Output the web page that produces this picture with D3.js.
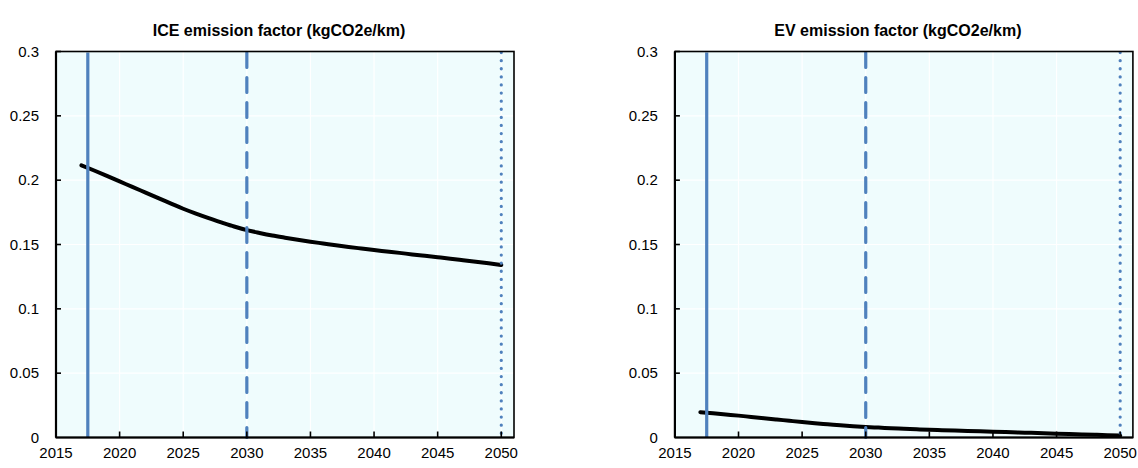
<!DOCTYPE html>
<html><head><meta charset="utf-8">
<script src="https://cdn.jsdelivr.net/npm/d3@7"></script>
<style>body{margin:0;background:#fff}svg{display:block}text{font-family:"Liberation Sans",Arial,sans-serif;fill:#000}</style>
</head><body><svg id="c" width="1138" height="468"></svg>
<script>
const years=[2017,2018,2019,2020,2021,2022,2023,2024,2025,2026,2027,2028,2029,2030,2031,2032,2033,2034,2035,2036,2037,2038,2039,2040,2041,2042,2043,2044,2045,2046,2047,2048,2049,2050];
const iceValues=[0.2115,0.2075,0.2033,0.1990,0.1948,0.1905,0.1862,0.1820,0.1778,0.1740,0.1705,0.1672,0.1640,0.1612,0.1590,0.1570,0.1553,0.1537,0.1522,0.1508,0.1494,0.1481,0.1469,0.1457,0.1446,0.1435,0.1423,0.1412,0.1401,0.1390,0.1378,0.1366,0.1354,0.1341];
const evValues=[0.0197,0.0188,0.0179,0.0170,0.0160,0.0150,0.0140,0.0130,0.0120,0.0111,0.0103,0.0095,0.0088,0.0082,0.0077,0.0072,0.0068,0.0064,0.0060,0.0057,0.0054,0.0051,0.0048,0.0045,0.0042,0.0039,0.0036,0.0033,0.0030,0.0027,0.0024,0.0021,0.0018,0.0015];
const panelTitles=["ICE emission factor (kgCO2e/km)","EV emission factor (kgCO2e/km)"];
const xTicks=[2015,2020,2025,2030,2035,2040,2045,2050];
const xTickLabels=["2015","2020","2025","2030","2035","2040","2045","2050"];
const yTicks=[0,0.05,0.1,0.15,0.2,0.25,0.3];
const yTickLabels=["0","0.05","0.1","0.15","0.2","0.25","0.3"];
const markerYears=[2017.5,2030,2050];
const markerDash=[null,"15,10","0.1,8"];

const svg=d3.select("#c");
const panels=[{title:panelTitles[0],values:iceValues,off:0},{title:panelTitles[1],values:evValues,off:618.9}];
const blue="#4f81bd";

panels.forEach(p=>{
  const x=d3.scaleLinear().domain([2015,2051]).range([56+p.off,514+p.off]);
  const y=d3.scaleLinear().domain([0,0.3]).range([437.5,51.5]);
  const g=svg.append("g");
  const [x0,x1]=x.range(), [y0,y1]=y.range();
  g.append("rect").attr("x",x0).attr("y",y1).attr("width",x1-x0).attr("height",y0-y1).attr("fill","#effcfd");
  g.selectAll(".vg").data(xTicks.slice(1)).enter().append("line")
    .attr("x1",d=>x(d)).attr("x2",d=>x(d)).attr("y1",y1).attr("y2",y0).attr("stroke","#fff").attr("stroke-width",1.2);
  g.selectAll(".hg").data(yTicks.slice(1)).enter().append("line")
    .attr("x1",x0).attr("x2",x1).attr("y1",d=>y(d)).attr("y2",d=>y(d)).attr("stroke","#fff").attr("stroke-width",1.2);
  const line=d3.line().x((d,i)=>x(years[i])).y(d=>y(d)).curve(d3.curveMonotoneX);
  g.append("path").datum(p.values).attr("d",line).attr("fill","none").attr("stroke","#000").attr("stroke-width",4).attr("stroke-linecap","round").attr("stroke-linejoin","round");
  markerYears.forEach((m,i)=>{
    const l=g.append("line").attr("x1",x(m)).attr("x2",x(m)).attr("y1",y1+1).attr("y2",y0).attr("stroke",blue).attr("stroke-width",3.2);
    if(markerDash[i]){l.attr("stroke-dasharray",markerDash[i]).attr("stroke-linecap","round");}
  });
  g.append("rect").attr("x",x0).attr("y",y1).attr("width",x1-x0).attr("height",y0-y1).attr("fill","none").attr("stroke","#000").attr("stroke-width",1.6);
  g.append("line").attr("x1",x0).attr("x2",x1).attr("y1",y0).attr("y2",y0).attr("stroke","#000").attr("stroke-width",2.2);
  g.append("line").attr("x1",x0).attr("x2",x0).attr("y1",y1).attr("y2",y0).attr("stroke","#000").attr("stroke-width",2.2);
  g.selectAll(".xt").data(xTicks.slice(1)).enter().append("line")
    .attr("x1",d=>x(d)).attr("x2",d=>x(d)).attr("y1",y0).attr("y2",y0-6).attr("stroke","#000").attr("stroke-width",1.6);
  g.selectAll(".yt").data(yTicks.slice(1)).enter().append("line")
    .attr("x1",x0).attr("x2",x0+5).attr("y1",d=>y(d)).attr("y2",d=>y(d)).attr("stroke","#000").attr("stroke-width",1.6);
  g.selectAll(".xl").data(xTicks).enter().append("text")
    .attr("x",d=>x(d)).attr("y",458).attr("text-anchor","middle").attr("font-size","15px").text((d,i)=>xTickLabels[i]);
  g.selectAll(".yl").data(yTicks).enter().append("text")
    .attr("x",x0-17).attr("y",d=>y(d)).attr("dy","0.35em").attr("text-anchor","end").attr("font-size","15px").text((d,i)=>yTickLabels[i]);
  g.append("text").attr("x",(x0+x1)/2-6).attr("y",36).attr("text-anchor","middle").attr("font-size","16px").attr("font-weight","bold").text(p.title);
});
</script></body></html>
